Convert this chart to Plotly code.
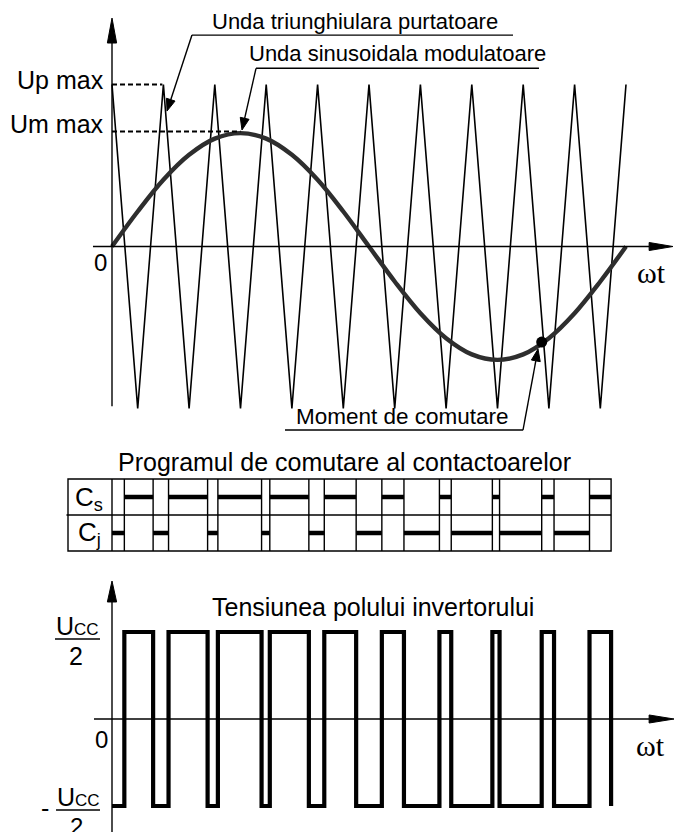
import math
import plotly.graph_objects as go

# ---------------- data ----------------
# carrier (triangular wave): vertices, time in carrier periods
carrier_t = [0, 0.5, 1, 1.5, 2, 2.5, 3, 3.5, 4, 4.5, 5, 5.5, 6, 6.5, 7, 7.5, 8, 8.5, 9, 9.5, 10]
carrier_v = [1, -1, 1, -1, 1, -1, 1, -1, 1, -1, 1, -1, 1, -1, 1, -1, 1, -1, 1, -1, 1]
# modulating sine wave samples
mod_t = [0, 0.5, 1, 1.5, 2, 2.5, 3, 3.5, 4, 4.5, 5, 5.5, 6, 6.5, 7, 7.5, 8, 8.5, 9, 9.5, 10]
mod_v = [0, 0.216, 0.412, 0.566, 0.666, 0.70, 0.666, 0.566, 0.412, 0.216, 0,
         -0.216, -0.412, -0.566, -0.666, -0.70, -0.666, -0.566, -0.412, -0.216, 0]
# switching moments (intersections sine / carrier)
switch_t = [0.24, 0.80, 1.10, 1.86, 2.06, 2.91, 3.07, 3.83, 4.13, 4.75,
            5.25, 5.68, 6.37, 6.60, 7.40, 7.54, 8.36, 8.60, 9.29, 9.71]
# highlighted switching moment
moment_t = [8.36]
moment_v = [-0.59]
# levels
up_max = 1.0
um_max = 0.70
ucc_half = 1.0

# pole voltage (step) built from switching moments
pole_t = [0] + switch_t
pole_v = [-ucc_half] + [ucc_half if i % 2 == 0 else -ucc_half for i in range(len(switch_t))]

# contactor bars
cs_x, cs_y, cj_x, cj_y = [], [], [], []
edges = [0] + switch_t
for i in range(len(edges) - 1):
    a, b = edges[i], edges[i + 1]
    if i % 2 == 0:
        cj_x += [a, b, None]; cj_y += [0.5, 0.5, None]
    else:
        cs_x += [a, b, None]; cs_y += [1.5, 1.5, None]

FONT = "Liberation Sans"
SERIF = "Liberation Serif"
BLK = "black"
XPX = 51.4      # px per x unit
Y1PX = 162.0    # px per unit, top panel

fig = go.Figure()

# top panel
fig.add_trace(go.Scatter(x=carrier_t, y=carrier_v, mode="lines",
                         line=dict(color=BLK, width=1.6), yaxis="y", hoverinfo="skip"))
fig.add_trace(go.Scatter(x=mod_t, y=mod_v, mode="lines",
                         line=dict(color="#2e2e2e", width=4.4, shape="spline", smoothing=1.0),
                         yaxis="y", hoverinfo="skip"))
fig.add_trace(go.Scatter(x=moment_t, y=moment_v, mode="markers",
                         marker=dict(color=BLK, size=11), yaxis="y", hoverinfo="skip"))

# table bars
fig.add_trace(go.Scatter(x=cs_x, y=cs_y, mode="lines", line=dict(color=BLK, width=4.5),
                         yaxis="y2", hoverinfo="skip"))
fig.add_trace(go.Scatter(x=cj_x, y=cj_y, mode="lines", line=dict(color=BLK, width=4.5),
                         yaxis="y2", hoverinfo="skip"))

# bottom panel
fig.add_trace(go.Scatter(x=pole_t, y=pole_v, mode="lines",
                         line=dict(color=BLK, width=4.2, shape="hv"), yaxis="y3", hoverinfo="skip"))

shapes = []
def line(x0, y0, x1, y1, yref, width=1.4, dash=None):
    d = dict(type="line", xref="x", yref=yref, x0=x0, y0=y0, x1=x1, y1=y1,
             line=dict(color=BLK, width=width))
    if dash:
        d["line"]["dash"] = dash
    shapes.append(d)

def path(p, yref):
    shapes.append(dict(type="path", xref="x", yref=yref, path=p,
                       fillcolor=BLK, line=dict(color=BLK, width=1)))

def leader(sx, sy, tx, ty, yref, ypx, hl=12.0, hw=4.5):
    # line from (sx,sy) to tip (tx,ty) with filled arrow head
    dx = (tx - sx) * XPX
    dy = (ty - sy) * ypx
    n = math.hypot(dx, dy)
    ux, uy = dx / n, dy / n
    bx, by = tx - hl * ux / XPX, ty - hl * uy / ypx
    px, py = -uy, ux
    lx, ly = bx + hw * px / XPX, by + hw * py / ypx
    rx, ry = bx - hw * px / XPX, by - hw * py / ypx
    line(sx, sy, bx, by, yref, width=1.4)
    path(f"M {lx},{ly} L {tx},{ty} L {rx},{ry} Z", yref)

# ---- top axes ----
line(-0.37, 0, 10.45, 0, "y")
path("M 10.45,0.0247 L 10.914,0 L 10.45,-0.0247 Z", "y")
line(0, -0.986, 0, 1.26, "y")
path("M -0.09,1.256 L 0,1.41 L 0.09,1.256 Z", "y")
# dashed reference levels
line(0, up_max, 0.98, up_max, "y", width=2, dash="5px,3px")
line(0, um_max + 0.01, 2.5, um_max + 0.01, "y", width=2, dash="5px,3px")
# underlines for labels
line(1.556, 1.305, 7.802, 1.305, "y")
line(2.802, 1.100, 8.307, 1.100, "y")
line(3.366, -1.133, 7.996, -1.133, "y")
leader(1.556, 1.305, 1.07, 0.836, "y", Y1PX)
leader(2.802, 1.100, 2.529, 0.719, "y", Y1PX)
leader(7.996, -1.133, 8.288, -0.633, "y", Y1PX)

# ---- table ----
tl, tr = -0.856, switch_t[-1]
shapes.append(dict(type="rect", xref="x", yref="y2", x0=tl, x1=tr, y0=0, y1=2,
                   line=dict(color=BLK, width=1.4)))
line(tl - 0.03, 1, tr, 1, "y2")
for s in [0] + switch_t[:-1]:
    line(s, 0, s, 2, "y2")

# ---- bottom axes ----
line(-0.35, 0, 10.45, 0, "y3")
path("M 10.45,0.046 L 10.934,0 L 10.45,-0.046 Z", "y3")
line(0, -1.4, 0, 1.35, "y3")
path("M -0.09,1.345 L 0,1.586 L 0.09,1.345 Z", "y3")
# fraction bars
line(-1.109, 0.92, -0.233, 0.92, "y3")
line(-1.089, -1.046, -0.233, -1.046, "y3")

annotations = []
def txt(x, y, t, yref, size, font=FONT, xanchor="center", yanchor="middle"):
    annotations.append(dict(x=x, y=y, xref="x", yref=yref, text=t, showarrow=False,
                            xanchor=xanchor, yanchor=yanchor, borderpad=0,
                            font=dict(family=font, size=size, color=BLK)))

UCC = "U<span style='font-size:17px'>CC</span>"

# top labels
txt(-0.14, 1.03, "Up max", "y", 25, xanchor="right")
txt(-0.14, 0.755, "Um max", "y", 25, xanchor="right")
txt(-0.22, -0.10, "0", "y", 24)
txt(10.49, -0.16, "ωt", "y", 30, font=SERIF)
txt(4.718, 1.39, "Unda triunghiulara purtatoare", "y", 22)
txt(5.554, 1.19, "Unda sinusoidala modulatoare", "y", 22)
txt(5.642, -1.05, "Moment de comutare", "y", 22.5)

# table labels
txt(4.514, 2.48, "Programul de comutare al contactoarelor", "y2", 25)
txt(-0.447, 1.47, "C<sub>s</sub>", "y2", 26)
txt(-0.447, 0.48, "C<sub>j</sub>", "y2", 26)

# bottom labels
txt(5.078, 1.29, "Tensiunea polului invertorului", "y3", 25)
txt(-0.20, -0.23, "0", "y3", 24)
txt(10.467, -0.30, "ωt", "y3", 30, font=SERIF)
txt(-0.681, 0.90, UCC, "y3", 25, yanchor="bottom")
txt(-0.700, 0.90, "2", "y3", 25, yanchor="top")
txt(-1.304, -1.023, "-", "y3", 25)
txt(-0.661, -1.066, UCC, "y3", 25, yanchor="bottom")
txt(-0.690, -1.066, "2", "y3", 24, yanchor="top")

ax_common = dict(visible=False, fixedrange=True)
fig.update_layout(
    width=675, height=832,
    margin=dict(l=0, r=0, t=0, b=0),
    paper_bgcolor="white", plot_bgcolor="white",
    showlegend=False,
    xaxis=dict(range=[-2.1790, 10.9533], domain=[0, 1], **ax_common),
    yaxis=dict(range=[-3.6142, 1.5216], domain=[0, 1], **ax_common),
    yaxis2=dict(range=[-7.806, 15.306], overlaying="y", **ax_common),
    yaxis3=dict(range=[-1.2989, 8.2644], overlaying="y", **ax_common),
    shapes=shapes,
    annotations=annotations,
)

fig.write_html("out.html")
